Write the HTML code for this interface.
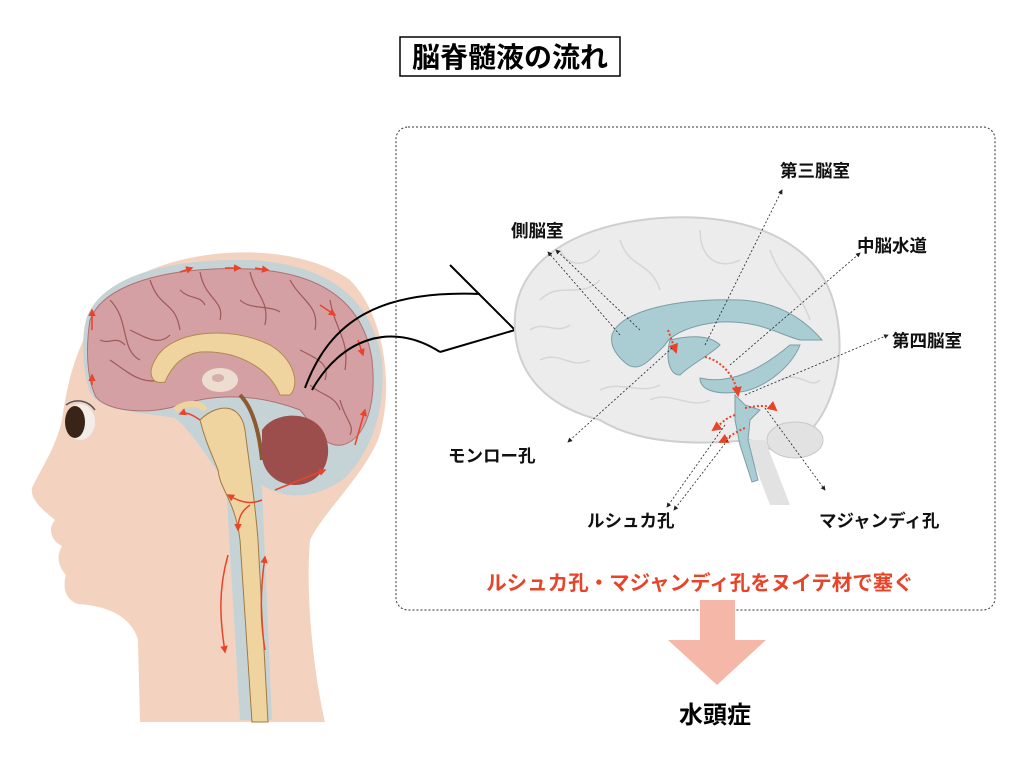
<!DOCTYPE html>
<html><head><meta charset="utf-8"><style>
body{margin:0;background:#fff;}
svg{display:block;font-family:"Liberation Sans","Noto Sans CJK JP",sans-serif;}
</style></head><body>
<svg width="1024" height="768" viewBox="0 0 1024 768" xmlns="http://www.w3.org/2000/svg">
<defs>
<marker id="ah" markerWidth="6" markerHeight="6" refX="5" refY="3" orient="auto"><path d="M0,0L6,3L0,6z" fill="#222"/></marker>
<marker id="ra" markerWidth="5" markerHeight="5" refX="4" refY="2.5" orient="auto"><path d="M0,0L5,2.5L0,5z" fill="#e8442a"/></marker>
</defs>
<!-- title -->
<rect x="400" y="37" width="220" height="39" fill="#fff" stroke="#000" stroke-width="1.5"/>
<text x="510" y="67" font-size="28" font-weight="bold" text-anchor="middle">脳脊髄液の流れ</text>

<!-- head -->
<path d="M140,722 L138,640 C132,618 110,606 78,604 C66,600 62,588 66,575 C58,566 56,556 62,546 C50,540 48,528 55,520 C40,508 30,498 32,488 C40,470 55,450 62,420 C70,360 90,300 150,270 C210,245 300,245 350,280 C385,315 395,390 378,440 C360,480 325,510 310,540 C305,600 315,680 325,722 Z" fill="#f3d3c0"/>
<!-- CSF layer -->
<path d="M86,320 C98,280 160,258 250,260 C330,264 372,300 382,360 C386,410 372,450 345,478 C315,500 285,500 262,485 L272,720 L240,720 L226,485 C210,460 190,430 175,418 C140,412 100,412 90,392 C82,372 81,340 86,320 Z" fill="#c6d3d6"/>
<!-- brain -->
<path d="M90,320 C103,285 165,266 250,269 C325,273 364,305 372,360 C377,405 365,440 342,445 C320,448 310,420 300,410 C260,395 220,392 180,405 C150,415 108,412 96,397 C86,377 86,345 90,320 Z" fill="#d4a0a3" stroke="#b07070" stroke-width="1"/>
<g stroke="#a05858" stroke-width="1.2" fill="none">
<path d="M110,300 C130,320 120,350 140,360 M150,280 C160,310 175,300 180,330 M200,272 C205,300 225,300 220,320 M250,272 C255,295 270,300 265,325 M290,280 C300,300 320,305 315,330 M330,300 C335,330 350,340 345,370 M110,360 C125,370 140,385 160,380 M340,400 C345,420 355,425 350,435 M130,330 C150,340 160,345 170,335 M240,300 C250,310 270,305 280,312 M300,350 C320,360 330,365 325,380 M100,340 C110,345 115,335 125,345 M180,290 C190,300 200,295 205,305 M310,385 C320,395 335,395 340,410"/>
</g>
<!-- corpus callosum -->
<path d="M155,360 C170,330 230,325 270,345 C295,360 300,385 290,395 L280,395 C270,370 240,350 200,352 C180,355 170,370 165,382 C150,385 148,372 155,360 Z" fill="#f0d4a0" stroke="#b08a50" stroke-width="1"/>
<ellipse cx="220" cy="380" rx="18" ry="12" fill="#ecddd0"/>
<ellipse cx="218" cy="378" rx="6" ry="4" fill="#d4b0a8"/>
<!-- brainstem/spinal -->
<path d="M200,420 C215,405 240,400 245,430 C250,470 255,500 258,540 L268,722 L252,722 L240,540 C235,500 220,490 218,470 C210,450 205,440 200,420 Z" fill="#f0d4a0" stroke="#a07a40" stroke-width="1"/>
<path d="M175,410 C185,402 200,402 205,410" stroke="#f0d4a0" stroke-width="6" fill="none"/>
<path d="M240,395 C255,410 260,440 262,460" stroke="#8a5a30" stroke-width="4" fill="none"/>
<!-- cerebellum -->
<path d="M262,430 C275,410 315,410 325,435 C335,460 320,485 295,485 C275,485 262,470 262,455 Z" fill="#9b4e4c"/>
<!-- eye -->
<ellipse cx="80" cy="422" rx="15" ry="18" fill="#f2ede8"/>
<ellipse cx="75" cy="422" rx="10" ry="16" fill="#3a2418"/>
<path d="M66,405 C75,398 88,400 95,410" stroke="#555" stroke-width="1.5" fill="none"/>
<!-- red arrows -->
<g stroke="#e8442a" stroke-width="1.5" fill="none" marker-end="url(#ra)">
<path d="M180,272 L192,268"/><path d="M225,268 L240,268"/><path d="M255,268 L268,270"/>
<path d="M320,305 L335,315"/><path d="M358,340 L363,355"/>
<path d="M92,330 L92,310"/><path d="M92,385 L92,375"/>
<path d="M355,445 L365,410"/><path d="M275,490 L325,470"/>
<path d="M200,420 C190,413 185,412 180,414"/>
<path d="M262,500 C250,505 240,502 228,495"/><path d="M250,505 C240,512 238,520 238,530"/>
<path d="M228,555 C218,590 220,620 225,652"/><path d="M265,650 C260,620 260,590 265,557"/>
</g>
<!-- connectors -->
<path d="M305,388 C330,320 380,290 480,294" stroke="#000" stroke-width="2" fill="none"/>
<path d="M312,390 C340,340 390,320 440,352" stroke="#000" stroke-width="2" fill="none"/>
<path d="M450,265 L515,330 L440,352" stroke="#000" stroke-width="2" fill="none"/>

<!-- panel -->
<rect x="396" y="127" width="599" height="483" rx="12" fill="none" stroke="#333" stroke-width="1" stroke-dasharray="2,2"/>
<!-- brain right -->
<path d="M515,330 C510,265 570,225 660,218 C745,212 815,240 833,300 C848,350 835,400 815,425 C800,455 770,455 750,440 C700,445 640,445 600,420 C560,410 518,385 515,330 Z" fill="#ececec" stroke="#cfcfcf" stroke-width="2"/>
<g stroke="#d6d6d6" stroke-width="1.5" fill="none">
<path d="M540,300 C560,280 580,300 600,280 M620,240 C630,270 650,260 660,290 M700,230 C700,260 720,270 740,260 M770,250 C780,280 800,290 810,320 M540,360 C560,350 570,370 590,360 M780,380 C800,370 810,390 820,380 M650,400 C670,390 690,410 710,400 M560,250 C570,270 590,265 600,250 M530,330 C545,320 555,335 570,325 M600,390 C620,380 640,395 660,385"/>
</g>
<ellipse cx="795" cy="440" rx="28" ry="18" fill="#e2e2e2" stroke="#c8c8c8"/>
<path d="M745,440 L770,505 L790,505 L765,440 Z" fill="#e2e2e2"/>
<!-- ventricles -->
<path d="M612,335 C620,310 680,298 740,300 C780,302 805,320 822,340 L800,340 C780,335 760,320 720,322 C690,325 670,335 665,345 C650,360 640,372 628,365 C615,355 610,345 612,335 Z" fill="#a9cdd3" stroke="#7a9ea4"/>
<path d="M670,340 C690,335 710,335 720,345 C710,355 690,365 680,375 C670,375 665,360 670,340 Z" fill="#a9cdd3" stroke="#7a9ea4"/>
<path d="M700,378 C730,385 760,370 790,345 L800,345 C790,370 760,390 740,392 C715,395 700,390 700,378 Z" fill="#a9cdd3" stroke="#7a9ea4"/>
<path d="M735,395 L745,405 L760,410 L750,420 L748,440 L758,480 L752,482 L740,445 L735,420 Z" fill="#a9cdd3" stroke="#7a9ea4"/>
<g stroke="#e8442a" stroke-width="2" stroke-dasharray="2,2" fill="none" marker-end="url(#ra)">
<path d="M668,330 L676,352"/><path d="M705,357 C720,360 735,375 738,395"/>
<path d="M745,408 C760,405 770,405 776,410"/><path d="M735,415 C725,418 720,425 713,430"/><path d="M745,428 C735,432 728,438 720,442"/>
</g>
<!-- leader lines -->
<g stroke="#222" stroke-width="0.8" stroke-dasharray="2,2" fill="none" marker-end="url(#ah)">
<path d="M705,345 L782,190"/><path d="M730,365 L860,253"/><path d="M745,395 L888,335"/>
<path d="M620,335 L548,252"/><path d="M640,330 L556,250"/>
<path d="M672,348 L568,442"/><path d="M725,425 L667,507"/><path d="M730,437 L674,510"/>
<path d="M765,408 L825,490"/>
</g>
<g font-size="17.5" font-weight="bold" fill="#111">
<text x="780" y="177">第三脳室</text>
<text x="511" y="237">側脳室</text>
<text x="857" y="252">中脳水道</text>
<text x="892" y="347">第四脳室</text>
<text x="448" y="462">モンロー孔</text>
<text x="587" y="527">ルシュカ孔</text>
<text x="819" y="527">マジャンディ孔</text>
</g>
<text x="700" y="590" font-size="20.5" font-weight="bold" fill="#e8442a" text-anchor="middle">ルシュカ孔・マジャンディ孔をヌイテ材で塞ぐ</text>
<!-- big arrow -->
<path d="M700,600 L735,600 L735,640 L766,640 L717,685 L668,640 L700,640 Z" fill="#f5b8a8"/>
<text x="715" y="723" font-size="24" font-weight="bold" text-anchor="middle">水頭症</text>
</svg>
</body></html>
